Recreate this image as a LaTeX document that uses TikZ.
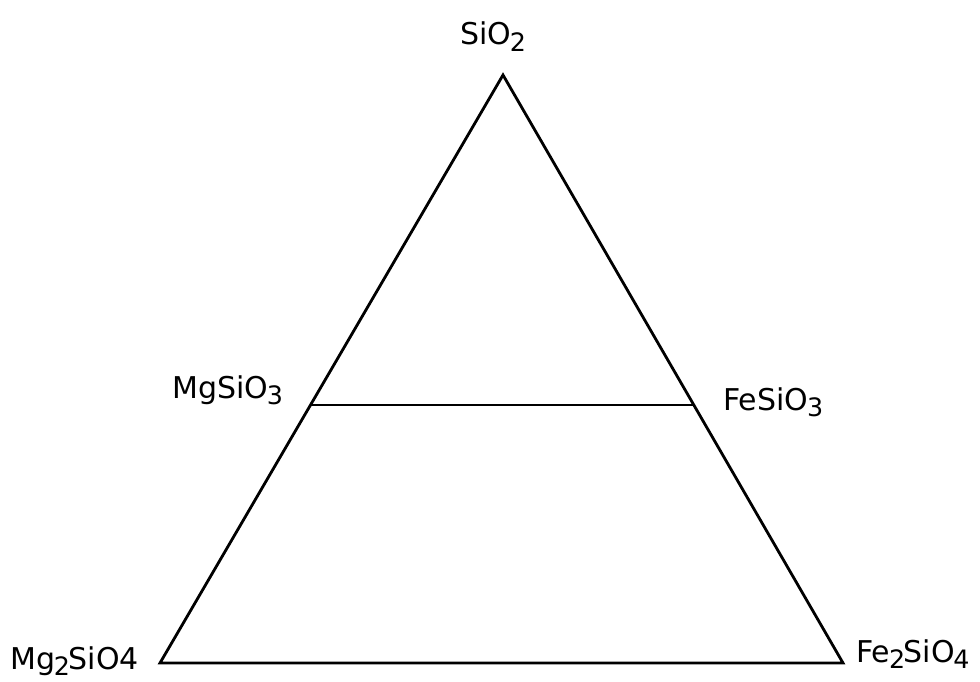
\documentclass[tikz,border=0pt]{standalone}
\usepackage{fontspec}
\setmainfont{DejaVu Sans}
\newcommand{\chsub}[1]{\raisebox{-0.22em}{\fontsize{19}{19}\selectfont #1}}
\begin{document}
\begin{tikzpicture}[x=0.75pt,y=-0.75pt,
  edge/.style={line width=2.1pt,line join=miter},
  lbl/.style={inner sep=0pt,anchor=base west,font=\fontsize{22.5}{26}\selectfont}]
\useasboundingbox (0,0) rectangle (980,681);
\coordinate (top) at (503,75);
\coordinate (bl) at (160,663);
\coordinate (br) at (843,663);
\coordinate (ml) at (310.5,405);
\coordinate (mr) at (692.5,405);
\draw[edge] (top) -- (bl) -- (br) -- cycle;
\draw[edge] (ml) -- (mr);
\node[lbl] (sio2) at (460,45) {SiO\kern-1pt\chsub{2}};
\node[lbl] (mgsio3) at (172,398) {MgSiO\kern-1pt\chsub{3}};
\node[lbl] (fesio3) at (723,410) {FeSiO\kern-1pt\chsub{3}};
\node[lbl] (mg2sio4) at (10,669) {Mg\kern-1pt\chsub{2}\kern-1pt SiO4};
\node[lbl] (fe2sio4) at (856,662) {Fe\kern-1pt\chsub{2}\kern-1pt SiO\kern-1pt\chsub{4}};
\end{tikzpicture}
\end{document}
